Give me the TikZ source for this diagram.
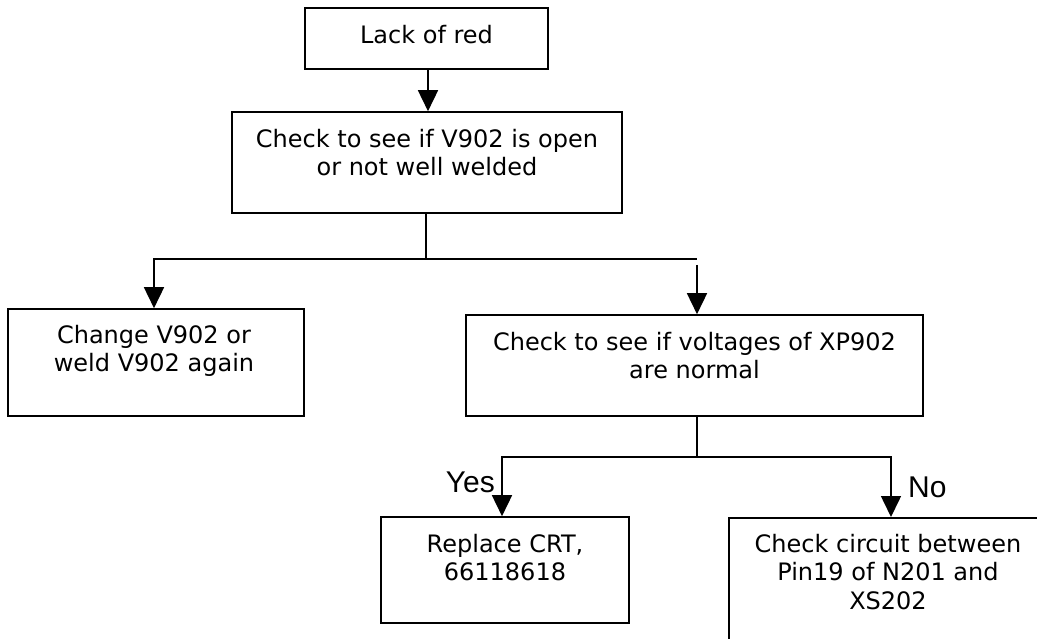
\documentclass[tikz,border=0pt]{standalone}
\usepackage{fontspec}
\setmainfont{DejaVu Sans}
\newfontfamily\lblfont{Liberation Sans}
\usetikzlibrary{arrows.meta,calc}
\begin{document}
\begin{tikzpicture}[x=1pt,y=-1pt,
  box/.style={draw, line width=1.6pt, rectangle, inner sep=0pt},
  txt/.style={font=\fontsize{24}{28.5}\selectfont, align=center, inner sep=0pt, anchor=north},
  lbl/.style={font=\lblfont\fontsize{30}{34}\selectfont, inner sep=0pt},
  conn/.style={line width=1.6pt},
  arr/.style={line width=1.6pt, -{Triangle[width=20pt,length=21pt]}}]
\useasboundingbox (0,0) rectangle (1037,639);
\clip (0,0) rectangle (1037,639);
% boxes
\node[box, minimum width=243pt, minimum height=61pt] (b1) at (426.5,38.5) {};
\node[box, minimum width=390pt, minimum height=101pt] (b2) at (427,162.5) {};
\node[box, minimum width=296pt, minimum height=107pt] (b3) at (156,362.5) {};
\node[box, minimum width=457pt, minimum height=101pt] (b4) at (694.5,365.5) {};
\node[box, minimum width=248pt, minimum height=106pt] (b5) at (505,570) {};
\node[box, minimum width=320pt, minimum height=140pt, anchor=north west] (b6) at (728,517) {};
% texts
\node[txt] (t1) at (426.5,24.8) {Lack of red};
\node[txt] (t2) at (427,128.8) {Check to see if V902 is open\\or not well welded};
\node[txt] (t3) at (154,324.8) {Change V902 or\\weld V902 again};
\node[txt] (t4) at (694.5,331.8) {Check to see if voltages of XP902\\are normal};
\node[txt] (t5) at (505,533.8) {Replace CRT,\\66118618};
\node[txt] (t6) at (888,533.8) {Check circuit between\\Pin19 of N201 and\\XS202};
% connectors
\coordinate (j1) at (426,259);
\coordinate (l1) at (154,259);
\coordinate (r1) at (697,259);
\coordinate (r1a) at (697,265);
\coordinate (j2) at (697,457);
\coordinate (l2) at (502,457);
\coordinate (r2) at (891,457);
\draw[arr] (b1.south -| 428,0) -- (b2.north -| 428,0);
\draw[conn] (b2.south -| j1) -- (j1);
\draw[arr] (j1) -- (l1) -- (l1 |- b3.north);
\draw[conn] (j1) -- (r1);
\draw[arr] (r1a) -- (r1a |- b4.north);
\draw[conn] (j2 |- b4.south) -- (j2);
\draw[arr] (j2) -- (l2) -- (l2 |- b5.north);
\draw[arr] (j2) -- (r2) -- (r2 |- b6.north);
% labels
\node[lbl, anchor=base east] (yes) at (495,492) {Yes};
\node[lbl, anchor=base west] (no) at (908,497) {No};
\end{tikzpicture}
\end{document}
